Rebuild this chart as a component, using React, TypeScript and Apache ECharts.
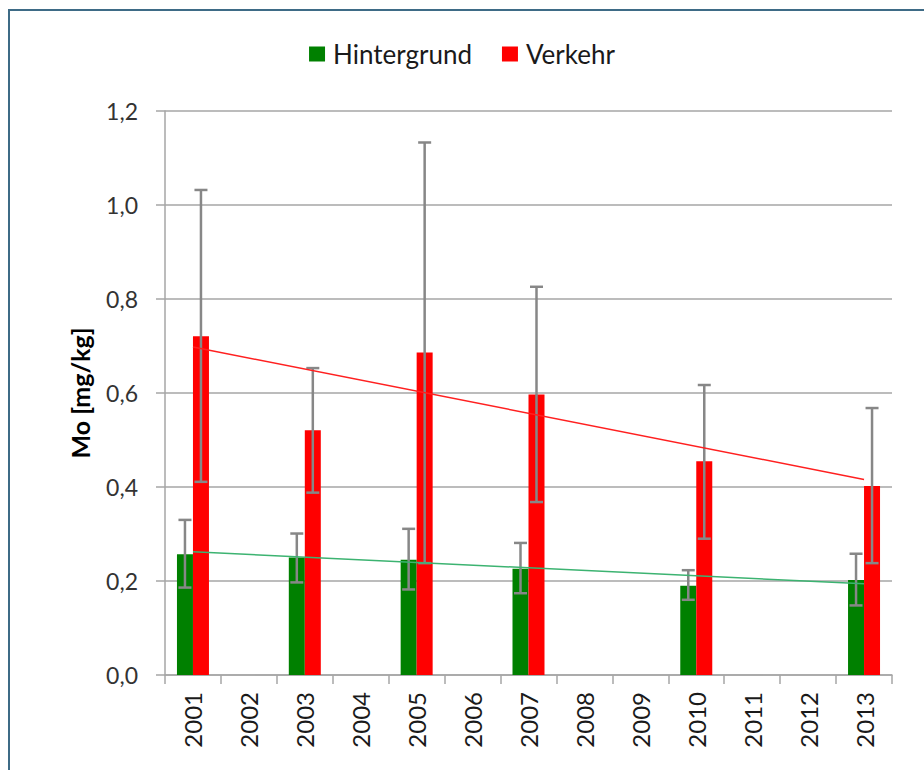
import React, { useEffect, useRef } from "react";
import * as echarts from "echarts";

const years = ["2001", "2002", "2003", "2004", "2005", "2006", "2007", "2008", "2009", "2010", "2011", "2012", "2013"];
const hintergrund = [0.257, null, 0.25, null, 0.245, null, 0.226, null, null, 0.19, null, null, 0.202];
const hintergrundLow = [0.186, null, 0.197, null, 0.182, null, 0.174, null, null, 0.16, null, null, 0.148];
const hintergrundHigh = [0.33, null, 0.301, null, 0.311, null, 0.281, null, null, 0.223, null, null, 0.258];
const verkehr = [0.721, null, 0.521, null, 0.686, null, 0.597, null, null, 0.455, null, null, 0.402];
const verkehrLow = [0.411, null, 0.388, null, 0.238, null, 0.368, null, null, 0.29, null, null, 0.238];
const verkehrHigh = [1.032, null, 0.653, null, 1.133, null, 0.826, null, null, 0.617, null, null, 0.568];
const trendHintergrund = [0.262, null, null, null, null, null, null, null, null, null, null, null, 0.194];
const trendVerkehr = [0.698, null, null, null, null, null, null, null, null, null, null, null, 0.416];
const yTicks = { min: 0, max: 1.2, interval: 0.2 };

const FONT = "Lato, 'Liberation Sans', sans-serif";
const BAR_W = 16;

function errData(low: (number | null)[], high: (number | null)[]) {
  const out: any[] = [];
  low.forEach((l, i) => {
    if (l != null && high[i] != null) out.push([i, l, high[i]]);
  });
  return out;
}

function makeRender(offset: number) {
  return (params: any, api: any) => {
    const idx = api.value(0);
    const lo = api.coord([idx, api.value(1)]);
    const hi = api.coord([idx, api.value(2)]);
    const x = lo[0] + offset;
    const cap = 6.5;
    const style = { stroke: "#878787", lineWidth: 2.5 };
    return {
      type: "group",
      children: [
        { type: "line", shape: { x1: x, y1: lo[1], x2: x, y2: hi[1] }, style },
        { type: "line", shape: { x1: x - cap, y1: lo[1], x2: x + cap, y2: lo[1] }, style },
        { type: "line", shape: { x1: x - cap, y1: hi[1], x2: x + cap, y2: hi[1] }, style },
      ],
    };
  };
}

export default function App() {
  const ref = useRef<HTMLDivElement>(null);
  useEffect(() => {
    if (!ref.current) return;
    const chart = echarts.init(ref.current, null, { renderer: "svg" });
    chart.setOption({
      animation: false,
      backgroundColor: "#ffffff",
      textStyle: { fontFamily: FONT },
      graphic: [
        {
          type: "rect",
          shape: { x: 9, y: 10, width: 1000, height: 1000 },
          style: { fill: "none", stroke: "#3e6b86", lineWidth: 2 },
          silent: true,
          z: 100,
        },
      ],
      legend: {
        data: ["Hintergrund", "Verkehr"],
        top: 36,
        left: "center",
        icon: "rect",
        itemWidth: 16,
        itemHeight: 15,
        itemGap: 30,
        textStyle: { fontSize: 26, color: "#1a1a1a", fontFamily: FONT, padding: [0, 0, 0, 3] },
      },
      grid: { left: 165, right: 32, top: 111, bottom: 95, containLabel: false },
      xAxis: {
        type: "category",
        data: years,
        axisLine: { lineStyle: { color: "#a6a6a6", width: 1.5 } },
        axisTick: { show: true, length: 9, lineStyle: { color: "#a6a6a6", width: 1.5 } },
        axisLabel: { rotate: 90, fontSize: 24, color: "#1a1a1a", margin: 17, fontFamily: FONT },
      },
      yAxis: {
        type: "value",
        min: yTicks.min,
        max: yTicks.max,
        interval: yTicks.interval,
        name: "Mo [mg/kg]",
        nameLocation: "middle",
        nameGap: 73,
        nameRotate: 90,
        nameTextStyle: { fontSize: 25, fontWeight: "bold", color: "#000", fontFamily: FONT },
        axisLine: { show: true, lineStyle: { color: "#a6a6a6", width: 1.5 } },
        axisTick: { show: true, length: 9, lineStyle: { color: "#a6a6a6", width: 1.5 } },
        axisLabel: {
          fontSize: 23,
          color: "#333333",
          margin: 27,
          fontFamily: FONT,
          formatter: (v: number) => v.toFixed(1).replace(".", ","),
        },
        splitLine: { lineStyle: { color: "#a6a6a6", width: 1.5 } },
      },
      series: [
        {
          name: "Hintergrund",
          type: "bar",
          data: hintergrund,
          barWidth: BAR_W,
          barGap: "0%",
          itemStyle: { color: "#008000" },
          z: 2,
        },
        {
          name: "Verkehr",
          type: "bar",
          data: verkehr,
          barWidth: BAR_W,
          barGap: "0%",
          itemStyle: { color: "#ff0000" },
          z: 2,
        },
        {
          name: "errH",
          type: "custom",
          renderItem: makeRender(-BAR_W / 2),
          data: errData(hintergrundLow, hintergrundHigh),
          encode: { x: 0, y: [1, 2] },
          z: 3,
          silent: true,
        },
        {
          name: "errV",
          type: "custom",
          renderItem: makeRender(BAR_W / 2),
          data: errData(verkehrLow, verkehrHigh),
          encode: { x: 0, y: [1, 2] },
          z: 3,
          silent: true,
        },
        {
          name: "trendH",
          type: "line",
          data: trendHintergrund,
          connectNulls: true,
          showSymbol: false,
          symbol: "none",
          lineStyle: { color: "#3cb371", width: 1.5 },
          z: 4,
          silent: true,
        },
        {
          name: "trendV",
          type: "line",
          data: trendVerkehr,
          connectNulls: true,
          showSymbol: false,
          symbol: "none",
          lineStyle: { color: "#ff2020", width: 1.5 },
          z: 4,
          silent: true,
        },
      ],
    });
    return () => chart.dispose();
  }, []);
  return (
    <div
      ref={ref}
      style={{ position: "fixed", left: 0, top: 0, width: 924, height: 770 }}
    />
  );
}
